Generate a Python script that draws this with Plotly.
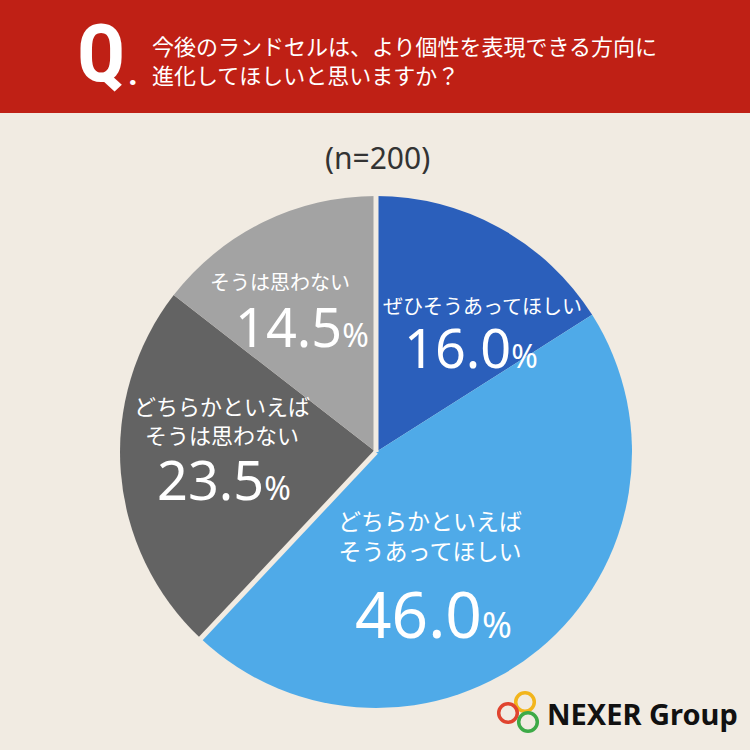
import math
import plotly.graph_objects as go

labels = ["ぜひそうあってほしい", "どちらかといえば<br>そうあってほしい", "どちらかといえば<br>そうは思わない", "そうは思わない"]
values = [16.0, 46.0, 23.5, 14.5]
colors = ["#2B5FBB", "#4FAAE8", "#636363", "#A3A3A3"]
question = "今後のランドセルは、より個性を表現できる方向に<br>進化してほしいと思いますか？"
n_label = "(n=200)"

W = H = 750
BG = "#F1EBE2"
CX, CY, R = 376, 452, 256

def px(x):
    return x / W

def py(y):
    return 1 - y / H

fig = go.Figure()
fig.add_trace(go.Pie(
    values=values, labels=labels, sort=False, direction="clockwise", rotation=0,
    marker=dict(colors=colors, line=dict(color=BG, width=0)),
    textinfo="none", hoverinfo="skip", showlegend=False,
    domain=dict(x=[px(CX - R), px(CX + R)], y=[py(CY + R), py(CY - R)]),
))

shapes = [
    dict(type="rect", xref="paper", yref="paper", x0=0, x1=1, y0=py(113), y1=1,
         fillcolor="#BF2015", line=dict(width=0), layer="above"),
]
total = sum(values)
for frac in [0.0, (values[0] + values[1]) / total]:
    a = frac * 2 * math.pi
    ex = CX + (R + 2) * math.sin(a)
    ey = CY - (R + 2) * math.cos(a)
    shapes.append(dict(type="line", xref="paper", yref="paper",
                       x0=px(CX), y0=py(CY), x1=px(ex), y1=py(ey),
                       line=dict(color=BG, width=5)))
for cx, cy, col in [(525, 702, "#F2B51C"), (508, 713, "#E0442F"), (528, 722, "#3DAA47")]:
    r = 9.3
    shapes.append(dict(type="circle", xref="paper", yref="paper",
                       x0=px(cx - r), x1=px(cx + r), y0=py(cy + r), y1=py(cy - r),
                       line=dict(color=col, width=3.5), fillcolor="rgba(0,0,0,0)"))

ann = []
def add(text, x, y, size, color="white", family="Noto Sans CJK JP", xanchor="center", align="center"):
    ann.append(dict(text=text, x=px(x), y=py(y), xref="paper", yref="paper", showarrow=False,
                    xanchor=xanchor, yanchor="middle", align=align,
                    font=dict(size=size, color=color, family=family)))

add("<b>Q</b>", 101, 54, 80, family="Roboto Condensed, Roboto")
add("<b>.</b>", 133, 73, 34, family="Roboto")
add(question, 150, 60, 22, xanchor="left", align="left")
add(n_label, 377, 157, 30, color="#333333", family="Noto Sans")

def pct(v, big, small):
    return f"<span style='font-size:{big}px'>{v:.1f}</span><span style='font-size:{small}px'>%</span>"

num_font = "Noto Sans"
add(labels[0], 482, 306, 20)
add(pct(values[0], 54, 32), 471, 347, 54, family=num_font)
add(labels[3], 280, 281, 20)
add(pct(values[3], 54, 32), 302, 326, 54, family=num_font)
add(labels[2], 222, 419, 22)
add(pct(values[2], 54, 32), 224, 479, 54, family=num_font)
add(labels[1], 430, 535, 23)
add(pct(values[1], 64, 36), 433, 613, 64, family=num_font)

add("<b>NEXER Group</b>", 642, 713, 29, color="#111111", family="Noto Sans")

fig.update_layout(width=W, height=H, margin=dict(l=0, r=0, t=0, b=0),
                  paper_bgcolor=BG, plot_bgcolor=BG,
                  shapes=shapes, annotations=ann)
fig.write_html("out.html")
